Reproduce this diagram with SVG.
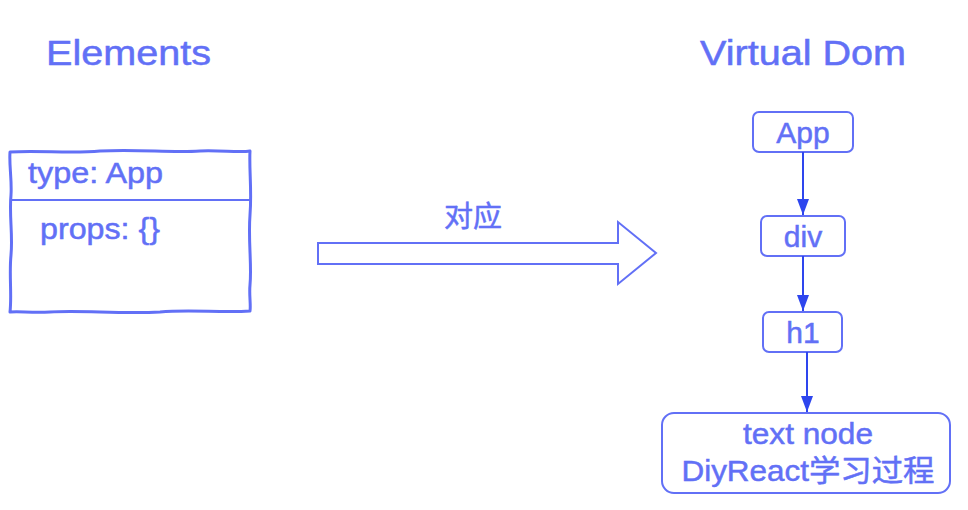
<svg xmlns="http://www.w3.org/2000/svg" width="968" height="510" viewBox="0 0 968 510">
  <defs>
    <style>
      .t { font-family: "Liberation Sans", Arial, "Noto Sans CJK SC", sans-serif; fill: #6270f6; stroke: #6270f6; stroke-width: 0.5; }
      .title { font-size: 35px; }
      .lbl { font-size: 30px; }
      .box { fill: #ffffff; stroke: #6270f6; stroke-width: 2; }
      .sketch { fill: none; stroke: #6270f6; stroke-width: 3; stroke-linejoin: round; stroke-linecap: round; }
      .conn { stroke: #2e46ee; stroke-width: 2; fill: none; }
    </style>
    <marker id="ah" markerWidth="16" markerHeight="12" refX="16" refY="6" orient="auto" markerUnits="userSpaceOnUse" viewBox="0 0 16 12">
      <path d="M0,0 L16,6 L0,12 Z" fill="#2e46ee"/>
    </marker>
  </defs>
  <rect width="968" height="510" fill="#ffffff"/>

  <g id="title-elements">
    <text class="t title" x="46" y="65" textLength="165" lengthAdjust="spacingAndGlyphs">Elements</text>
  </g>
  <g id="title-vdom">
    <text class="t title" x="700" y="65" textLength="206" lengthAdjust="spacingAndGlyphs">Virtual Dom</text>
  </g>

  <g id="elements-box">
    <path class="sketch" d="M10,152 C40,150 70,154 100,151 C140,149 170,153 200,151 C220,150 240,153 250,151 C249,170 252,190 250,215 C248,240 252,265 250,285 C249,295 251,305 250,311 C220,313 190,309 160,312 C120,314 80,310 50,312 C30,313 20,311 10,312 C12,295 9,275 11,255 C13,235 9,215 11,195 C12,180 9,165 10,152 Z"/>
    <line x1="10" y1="200" x2="250" y2="200" stroke="#6270f6" stroke-width="2"/>
    <text class="t lbl" x="28" y="183" textLength="135" lengthAdjust="spacingAndGlyphs">type: App</text>
    <text class="t lbl" x="40" y="239" textLength="120" lengthAdjust="spacingAndGlyphs">props: {}</text>
  </g>

  <g id="mapping-arrow">
    <polygon points="318,243 618,243 618,222 656,253 618,284 618,264 318,264" fill="#ffffff" stroke="#6270f6" stroke-width="2"/>
    <text class="t" x="473" y="227" font-size="29" text-anchor="middle">对应</text>
  </g>

  <g id="node-app">
    <rect class="box" x="753" y="112" width="100" height="40" rx="6"/>
    <text class="t lbl" x="803" y="143" text-anchor="middle">App</text>
  </g>
  <g id="node-div">
    <rect class="box" x="761" y="216" width="84" height="40" rx="6"/>
    <text class="t lbl" x="803" y="247" text-anchor="middle">div</text>
  </g>
  <g id="node-h1">
    <rect class="box" x="763" y="312" width="79" height="40" rx="6"/>
    <text class="t lbl" x="803" y="343" text-anchor="middle">h1</text>
  </g>
  <g id="node-text">
    <rect class="box" x="662" y="413" width="288" height="80" rx="12"/>
    <text class="t lbl" x="808" y="444" text-anchor="middle" textLength="130" lengthAdjust="spacingAndGlyphs">text node</text>
    <text class="t lbl" x="808" y="481" text-anchor="middle" textLength="253" lengthAdjust="spacingAndGlyphs">DiyReact学习过程</text>
  </g>

  <g id="connectors">
    <line class="conn" x1="803" y1="152" x2="803" y2="215" marker-end="url(#ah)"/>
    <line class="conn" x1="803" y1="256" x2="803" y2="311" marker-end="url(#ah)"/>
    <line class="conn" x1="807" y1="352" x2="807" y2="412" marker-end="url(#ah)"/>
  </g>
</svg>
